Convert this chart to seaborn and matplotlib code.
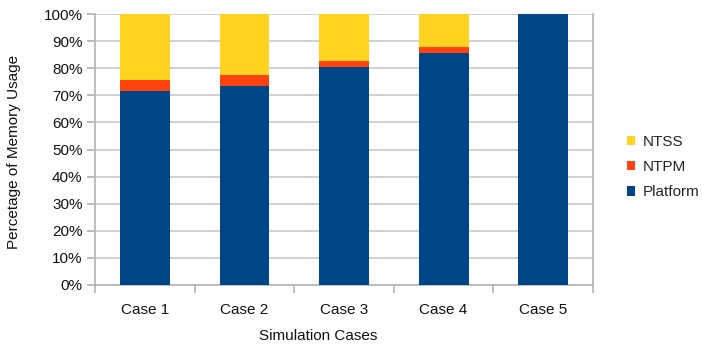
import matplotlib
matplotlib.use("Agg")
import matplotlib.pyplot as plt
import seaborn as sns
import pandas as pd
import numpy as np
from matplotlib.patches import Patch
from matplotlib.ticker import FixedLocator

cases = ["Case 1", "Case 2", "Case 3", "Case 4", "Case 5"]
platform = [71.6, 73.3, 80.3, 85.5, 100.0]
ntpm = [3.9, 4.1, 2.2, 2.2, 0.0]
ntss = [24.5, 22.6, 17.5, 12.3, 0.0]

series_names = ["NTSS", "NTPM", "Platform"]
colors = {"NTSS": "#FFD320", "NTPM": "#FF420E", "Platform": "#004586"}

sns.set_theme(style="white")
plt.rcParams["font.family"] = ["Liberation Sans", "DejaVu Sans"]

df = pd.DataFrame({"case": cases, "Platform": platform, "NTPM": ntpm, "NTSS": ntss})
df["top_platform"] = df["Platform"]
df["top_ntpm"] = df["Platform"] + df["NTPM"]
df["top_ntss"] = df["top_ntpm"] + df["NTSS"]

fig = plt.figure(figsize=(7.02, 3.5), dpi=100)
ax = fig.add_axes([95 / 702, 1 - 285 / 350, (593 - 95) / 702, (285 - 14) / 350])

# stacked bars: draw cumulative heights from the tallest layer down
for col, name in [("top_ntss", "NTSS"), ("top_ntpm", "NTPM"), ("top_platform", "Platform")]:
    sns.barplot(data=df, x="case", y=col, color=colors[name], width=0.5,
                saturation=1, ax=ax, zorder=3, linewidth=0)

fs = 11
ax.set_ylim(0, 100)
ax.set_xlim(-0.5, len(cases) - 0.5)
ax.set_yticks(np.arange(0, 101, 10))
ax.set_yticklabels([f"{v}%" for v in range(0, 101, 10)])
ax.yaxis.grid(True, color="#c8c8c8", linewidth=1.2, zorder=0)
ax.set_axisbelow(True)

grey = "#b3b3b3"
for side in ["left", "bottom", "right"]:
    ax.spines[side].set_visible(True)
    ax.spines[side].set_color(grey)
    ax.spines[side].set_linewidth(1.2)
ax.spines["top"].set_visible(False)

ax.tick_params(axis="y", which="major", length=6, color=grey, width=1.2,
               labelsize=fs, labelcolor="#111111", pad=3, left=True)
ax.tick_params(axis="x", which="major", length=0, labelsize=fs,
               labelcolor="#111111", pad=13)
ax.xaxis.set_minor_locator(FixedLocator(np.arange(-0.5, len(cases), 1.0)))
ax.tick_params(axis="x", which="minor", length=6, color=grey, width=1.2, bottom=True)

ax.set_xlabel("Simulation Cases", fontsize=fs, color="#111111")
ax.xaxis.set_label_coords(0.448, -0.162)
ax.set_ylabel("Percetage of Memory Usage", fontsize=fs, color="#111111")
ax.yaxis.set_label_coords(-0.149, 0.49)

handles = [Patch(facecolor=colors[n], edgecolor="none", label=n) for n in series_names]
fig.legend(handles=handles, loc="center left", bbox_to_anchor=(627 / 702, 1 - 167 / 350),
           frameon=False, fontsize=fs, handlelength=0.55, handleheight=0.55,
           handletextpad=0.45, labelspacing=0.75, borderpad=0, borderaxespad=0)

fig.savefig("out.png", dpi=100)
